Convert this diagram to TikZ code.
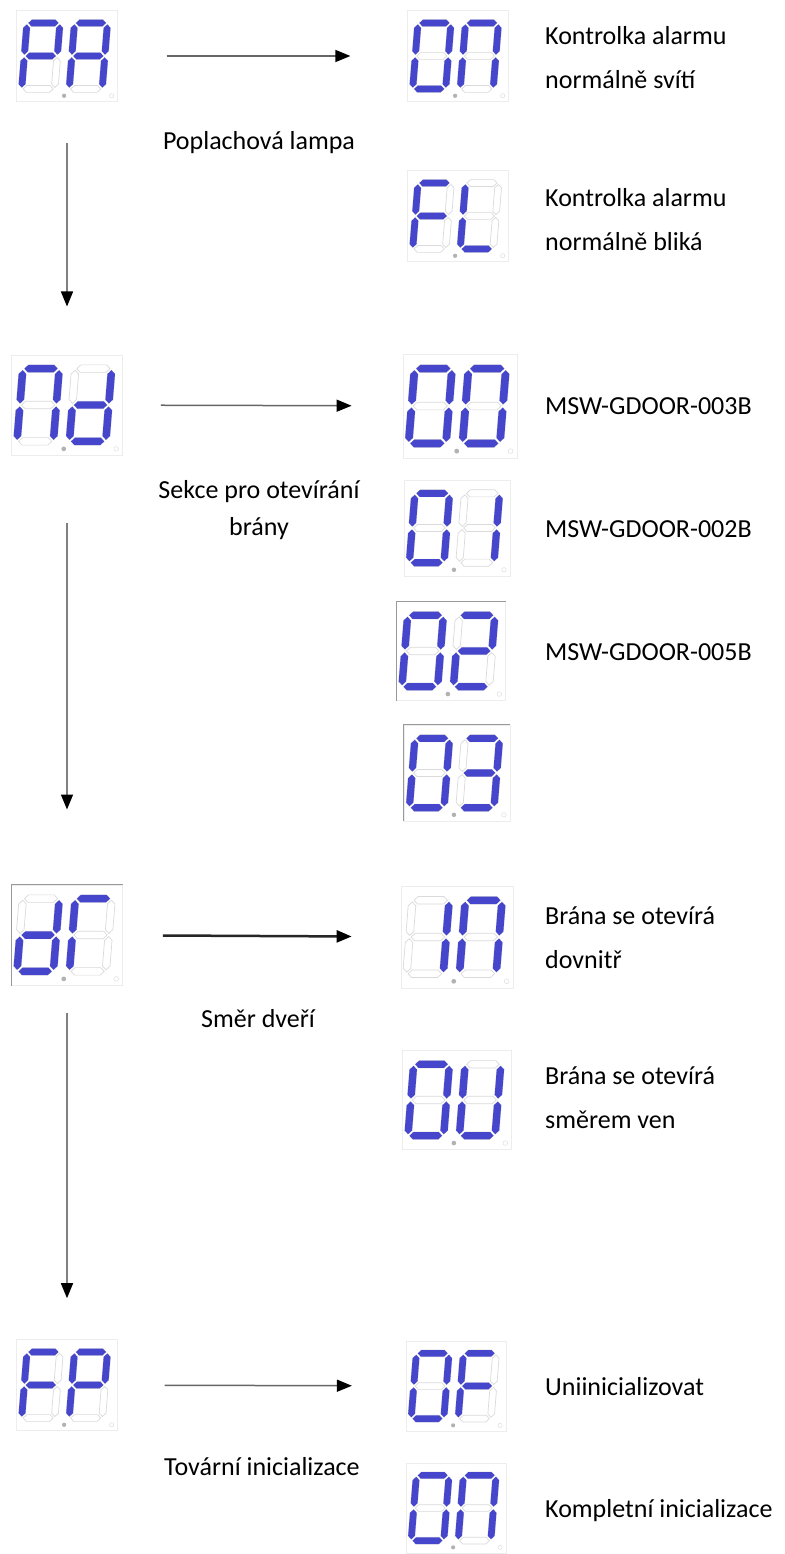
\documentclass[tikz,border=0pt]{standalone}
\usepackage{fontspec}
\setmainfont{Carlito}
\usetikzlibrary{arrows.meta}

\definecolor{segblue}{RGB}{70,70,205}
\definecolor{segoff}{RGB}{218,218,218}

% segment sizes of one digit (pt)
\def\segw{34}
\def\segh{34}
\def\segt{7}
\def\segk{3.5}
\def\segg{1.5}

% one segment as a path: horizontal or vertical, from its start point
\newcommand{\hseg}[2]{(#1+\segg,#2) -- ++(\segk,-\segk) -- ++(\segw-2*\segg-\segt,0)
  -- ++(\segk,\segk) -- ++(-\segk,\segk) -- ++(-\segw+2*\segg+\segt,0) -- cycle}
\newcommand{\vseg}[2]{(#1,#2+\segg) -- ++(\segk,\segk) -- ++(0,\segh-2*\segg-\segt)
  -- ++(-\segk,\segk) -- ++(-\segk,-\segk) -- ++(0,-\segh+2*\segg+\segt) -- cycle}
\def\sega{\hseg{0}{-\segh}}
\def\segb{\vseg{\segw}{-\segh}}
\def\segc{\vseg{\segw}{0}}
\def\segd{\hseg{0}{\segh}}
\def\sege{\vseg{0}{0}}
\def\segf{\vseg{0}{-\segh}}
\def\seggm{\hseg{0}{0}}

\newcommand{\segdigit}[2]{%
  \begin{scope}[shift={(#1,0)}, xslant=0.08]
    \foreach \s in {a,b,c,d,e,f,gm}
      \draw[segoff, line width=0.7pt] \csname seg\s\endcsname;
    \foreach \s in {#2}
      \fill[segblue] \csname seg\s\endcsname;
  \end{scope}}

% name, x, y, scale, lit segments of digit 1 and digit 2
\newcommand{\segdisp}[6]{%
  \begin{scope}[shift={(#2,#3)}, scale=#4]
    \node[dispbox, transform shape] (#1) at (0,0) {};
    \segdigit{-44}{#5}
    \segdigit{5}{#6}
    \fill[black!30] (-3,41) circle (2.2);
    \draw[black!15] (46,41) circle (2.2);
  \end{scope}}

\begin{document}
\begin{tikzpicture}[x=1pt, y=-1pt,
    dispbox/.style={draw=black!7, fill=white, minimum width=104pt, minimum height=94pt, inner sep=0pt},
    sideline/.style={draw=black!40, line width=0.8pt},
    flow/.style={draw=black!60, line width=1.5pt, -{Triangle[length=15pt, width=12pt, color=black]}},
    note/.style={font=\fontsize{26}{44}\selectfont, anchor=base west, align=left, inner sep=0pt},
    title/.style={font=\fontsize{26}{37}\selectfont, anchor=base, align=center, inner sep=0pt}]
  \fill[white] (0,0) rectangle (784,1554);
  \useasboundingbox (0,0) rectangle (784,1554);

  % left column
  \segdisp{pa}{67}{56}{0.97}{a,b,e,f,gm}{a,b,c,e,f,gm}
  \segdisp{nd}{67}{405}{1.07}{a,b,c,e,f}{b,c,d,e,gm}
  \segdisp{dr}{67}{935}{1.07}{b,c,d,e,gm}{a,e,f}
  \segdisp{fp}{67}{1385}{0.97}{a,e,f,gm}{a,b,e,f,gm}
  \draw[sideline] (dr.south west) -- (dr.north west) -- (dr.north east);

  % right column
  \segdisp{on1}{458}{56}{0.97}{a,b,c,d,e,f}{a,b,c,e,f}
  \segdisp{fl}{458}{216}{0.97}{a,e,f,gm}{d,e,f}
  \segdisp{d00}{460}{406}{1.1}{a,b,c,d,e,f}{a,b,c,d,e,f}
  \segdisp{d01}{457}{528}{1.02}{a,b,c,d,e,f}{b,c}
  \segdisp{d02}{451}{651}{1.05}{a,b,c,d,e,f}{a,b,gm,e,d}
  \segdisp{d03}{457}{773}{1.02}{a,b,c,d,e,f}{a,b,gm,c,d}
  \segdisp{in}{457}{937}{1.08}{b,c}{a,b,c,e,f}
  \segdisp{ou}{457}{1100}{1.05}{a,b,c,d,e,f}{b,c,d,e,f}
  \segdisp{of}{456}{1386}{0.96}{a,b,c,d,e,f}{a,e,f,gm}
  \segdisp{on2}{456}{1508}{0.96}{a,b,c,d,e,f}{a,b,c,e,f}
  \draw[sideline] (d02.south west) -- (d02.north west) -- (d02.north east);
  \draw[sideline] (d03.south west) -- (d03.north west) -- (d03.north east);

  \draw[flow, shorten <=49pt, shorten >=57pt] (pa) -- (on1);
  \draw[flow, shorten <=38pt, shorten >=51pt] (nd) -- (d00);
  \draw[flow, line width=2.5pt, draw=black!85, shorten <=40pt, shorten >=49pt] (dr) -- (in);
  \draw[flow, shorten <=47pt, shorten >=54pt] (fp) -- (of);

  \draw[flow, draw=black!50, shorten <=41pt, shorten >=48pt] (pa) -- (nd);
  \draw[flow, draw=black!50, shorten <=67pt, shorten >=75pt] (nd) -- (dr);
  \draw[flow, draw=black!50, shorten <=27pt, shorten >=41pt] (dr) -- (fp);

  % a node of two lines sits on the baseline of its last line
  \node[title] (tpa) at (259,150) {Poplachová lampa};
  \node[title] (tnd) at (259,535) {Sekce pro otevírání\\brány};
  \node[title] (tdr) at (258,1027) {Směr dveří};
  \node[title] (tfp) at (262,1475) {Tovární inicializace};

  \node[note] (non1) at (545,89) {Kontrolka alarmu\\normálně svítí};
  \node[note] (nfl) at (545,251) {Kontrolka alarmu\\normálně bliká};
  \node[note] (nd00) at (545,414) {MSW-GDOOR-003B};
  \node[note] (nd01) at (545,537) {MSW-GDOOR-002B};
  \node[note] (nd02) at (545,660) {MSW-GDOOR-005B};
  \node[note] (nin) at (545,968) {Brána se otevírá\\dovnitř};
  \node[note] (nou) at (545,1128) {Brána se otevírá\\směrem ven};
  \node[note] (nof) at (545,1395) {Uniinicializovat};
  \node[note] (non2) at (545,1517) {Kompletní inicializace};
\end{tikzpicture}
\end{document}
